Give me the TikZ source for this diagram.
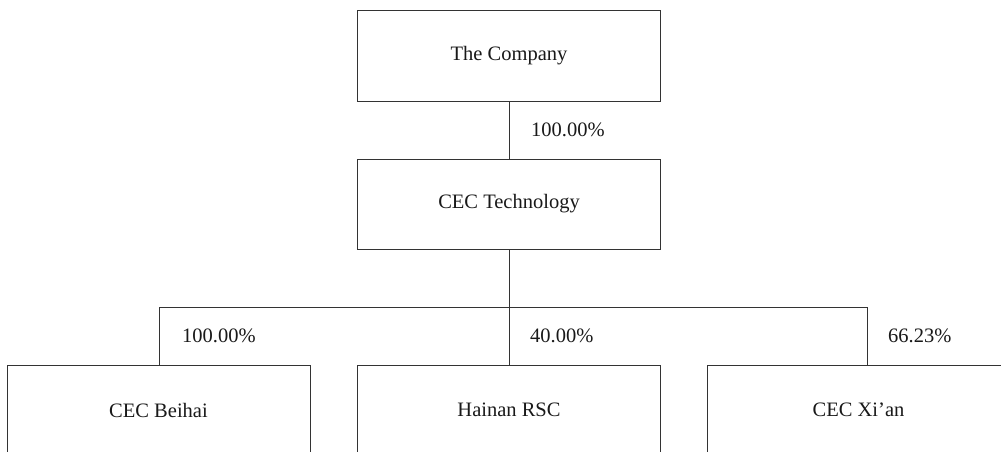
\documentclass[tikz,border=0pt]{standalone}
\usepackage{fontspec}
\setmainfont{Liberation Serif}
\begin{document}
\begin{tikzpicture}[x=1pt,y=-1pt,
  box/.style={draw=black!80, line width=0.9pt, minimum width=303pt, minimum height=90pt, inner sep=0pt, font=\fontsize{20.5}{24}\selectfont, text=black!90},
  pct/.style={anchor=west, inner sep=0pt, font=\fontsize{20.5}{24}\selectfont, text=black!90},
  link/.style={draw=black!80, line width=0.9pt}]
\useasboundingbox (0,0) rectangle (1001,452);
\clip (0,0) rectangle (1001,452);
\node[box, minimum height=91pt] (company) at (509,55.5) {The Company};
\node[box] (tech) at (509,204) {CEC Technology};
\node[box] (beihai) at (158.5,410) {CEC Beihai};
\node[box] (hainan) at (509,410) {Hainan RSC};
\node[box] (xian) at (858.5,410) {CEC Xi'an};
\coordinate (busL) at (159,307);
\coordinate (busM) at (509,307);
\coordinate (busR) at (867,307);
\draw[link] (company.south) -- (tech.north);
\draw[link] (tech.south) -- (busM);
\draw[link] (busL) -- (busR);
\draw[link] (busL) -- (beihai.north -| busL);
\draw[link] (busM) -- (hainan.north);
\draw[link] (busR) -- (xian.north -| busR);
\node[pct] (p0) at (531,130) {100.00\%};
\node[pct] (p1) at (182,336) {100.00\%};
\node[pct] (p2) at (530,336) {40.00\%};
\node[pct] (p3) at (888,336) {66.23\%};
\end{tikzpicture}
\end{document}
